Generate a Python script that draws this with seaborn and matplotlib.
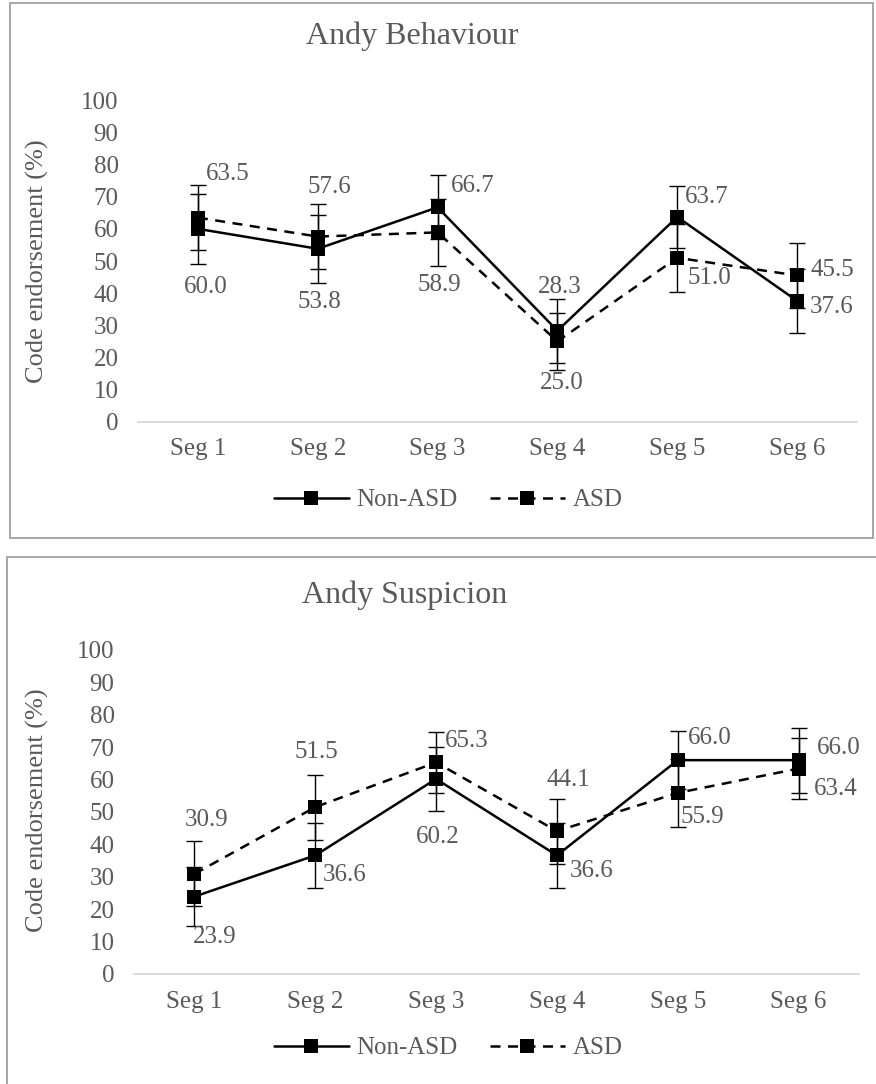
import matplotlib
matplotlib.use("Agg")
import matplotlib.pyplot as plt
from matplotlib.lines import Line2D
from matplotlib.patches import Rectangle
import seaborn as sns
import pandas as pd

# ---------------- data ----------------
segments = ["Seg 1", "Seg 2", "Seg 3", "Seg 4", "Seg 5", "Seg 6"]
groups = ["Non-ASD", "ASD"]

behaviour_non_asd = [60.0, 53.8, 66.7, 28.3, 63.7, 37.6]
behaviour_asd = [63.5, 57.6, 58.9, 25.0, 51.0, 45.5]
behaviour_non_asd_err = [11.0, 10.5, 10.0, 10.0, 9.6, 9.9]
behaviour_asd_err = [10.0, 10.1, 10.5, 8.8, 10.6, 10.2]

suspicion_non_asd = [23.9, 36.6, 60.2, 36.6, 66.0, 66.0]
suspicion_asd = [30.9, 51.5, 65.3, 44.1, 55.9, 63.4]
suspicion_non_asd_err = [9.0, 10.0, 10.0, 10.0, 9.0, 10.0]
suspicion_asd_err = [10.0, 10.0, 9.5, 10.0, 10.4, 9.5]

titles = ["Andy Behaviour", "Andy Suspicion"]
y_label = "Code endorsement (%)"
y_ticks = list(range(0, 101, 10))

# label placement offsets (pixels, x right / y down) - layout only
behaviour_offsets = {
    "Non-ASD": [(8, 58), (2, 53), (35, -21), (2, -44), (29, -20), (35, 6)],
    "ASD": [(30, -44), (12, -50), (2, 53), (4, 42), (32, 20), (35, -5)],
}
suspicion_offsets = {
    "Non-ASD": [(20, 40), (29, 20), (2, 58), (35, 16), (32, -22), (40, -12)],
    "ASD": [(12, -54), (1, -55), (31, -21), (11, -51), (25, 24), (37, 20)],
}

# ---------------- style ----------------
sns.set_theme(style="white")
plt.rcParams["font.family"] = ["Liberation Serif", "DejaVu Serif"]
TXT = "#595959"
FS = 18
LW = 1.8
DASH = (4, 3)

W, H = 876, 1084
fig = plt.figure(figsize=(W / 100, H / 100), dpi=100)


def fx(px):
    return px / W


def fy(py):
    return 1 - py / H


# panel boxes
fig.patches.append(Rectangle((fx(10), fy(538)), fx(863), (538 - 3) / H,
                             transform=fig.transFigure, fill=False,
                             edgecolor="#a0a0a0", linewidth=1.3))
fig.patches.append(Rectangle((fx(7), fy(1090)), fx(880), (1090 - 557) / H,
                             transform=fig.transFigure, fill=False,
                             edgecolor="#a0a0a0", linewidth=1.3))

panels = [
    dict(rect=[fx(138), fy(421.7), fx(857 - 138), (421.7 - 100.3) / H],
         non=behaviour_non_asd, asd=behaviour_asd,
         non_err=behaviour_non_asd_err, asd_err=behaviour_asd_err,
         offsets=behaviour_offsets, title=titles[0], title_xy=(412, 36),
         ylab_y=261, leg_y=500),
    dict(rect=[fx(134), fy(974), fx(859 - 134), (974 - 650) / H],
         non=suspicion_non_asd, asd=suspicion_asd,
         non_err=suspicion_non_asd_err, asd_err=suspicion_asd_err,
         offsets=suspicion_offsets, title=titles[1], title_xy=(405, 595),
         ylab_y=810, leg_y=1048),
]

for p in panels:
    ax = fig.add_axes(p["rect"])
    df = pd.DataFrame({
        "Segment": segments * 2,
        "Group": [groups[0]] * len(segments) + [groups[1]] * len(segments),
        "Value": list(p["non"]) + list(p["asd"]),
        "Err": list(p["non_err"]) + list(p["asd_err"]),
    })
    sns.lineplot(data=df, x="Segment", y="Value", hue="Group", style="Group",
                 palette={"Non-ASD": "black", "ASD": "black"},
                 dashes={"Non-ASD": "", "ASD": DASH},
                 markers={"Non-ASD": "s", "ASD": "s"},
                 markersize=10, markeredgewidth=0, linewidth=LW,
                 legend=False, sort=False, ax=ax, zorder=3)
    for g in groups:
        sub = df[df["Group"] == g]
        xs = [segments.index(s) for s in sub["Segment"]]
        ax.errorbar(xs, sub["Value"], yerr=sub["Err"], fmt="none",
                    ecolor="black", elinewidth=1.0, capsize=6, capthick=1.0,
                    zorder=2)
        for i, (x, v) in enumerate(zip(xs, sub["Value"])):
            dx, dy = p["offsets"][g][i]
            ax.annotate(f"{v:.1f}", (x, v), xytext=(dx, -dy),
                        textcoords="offset pixels", ha="center", va="center",
                        fontsize=FS, color=TXT, zorder=4)

    ax.set_xlim(-0.5, len(segments) - 0.5)
    ax.set_ylim(0, 100)
    ax.set_yticks(y_ticks)
    ax.set_yticklabels([str(t) for t in y_ticks])
    ax.set_xlabel("")
    ax.set_ylabel("")
    for s in ["top", "right", "left"]:
        ax.spines[s].set_visible(False)
    ax.spines["bottom"].set_color("#d9d9d9")
    ax.spines["bottom"].set_linewidth(1.3)
    ax.tick_params(axis="both", length=0, labelsize=FS, labelcolor=TXT)
    ax.tick_params(axis="x", pad=12)
    ax.tick_params(axis="y", pad=14)
    ax.set_facecolor("none")

    fig.text(fx(p["title_xy"][0]), fy(p["title_xy"][1]), p["title"],
             ha="center", va="center", fontsize=23, color=TXT)
    fig.text(fx(37), fy(p["ylab_y"]), y_label, rotation=90,
             ha="center", va="center", fontsize=FS + 1, color=TXT)

    handles = [
        Line2D([0], [0], color="black", lw=LW, marker="s", markersize=10,
               markeredgewidth=0),
        Line2D([0], [0], color="black", lw=LW, ls=(0, DASH), marker="s",
               markersize=10, markeredgewidth=0),
    ]
    fig.legend(handles, groups, loc="center", bbox_to_anchor=(fx(448), fy(p["leg_y"])),
               ncol=2, frameon=False, fontsize=FS, labelcolor=TXT,
               handlelength=3.0, handletextpad=0.3, columnspacing=1.3,
               numpoints=1)

fig.savefig("out.png", dpi=100)
